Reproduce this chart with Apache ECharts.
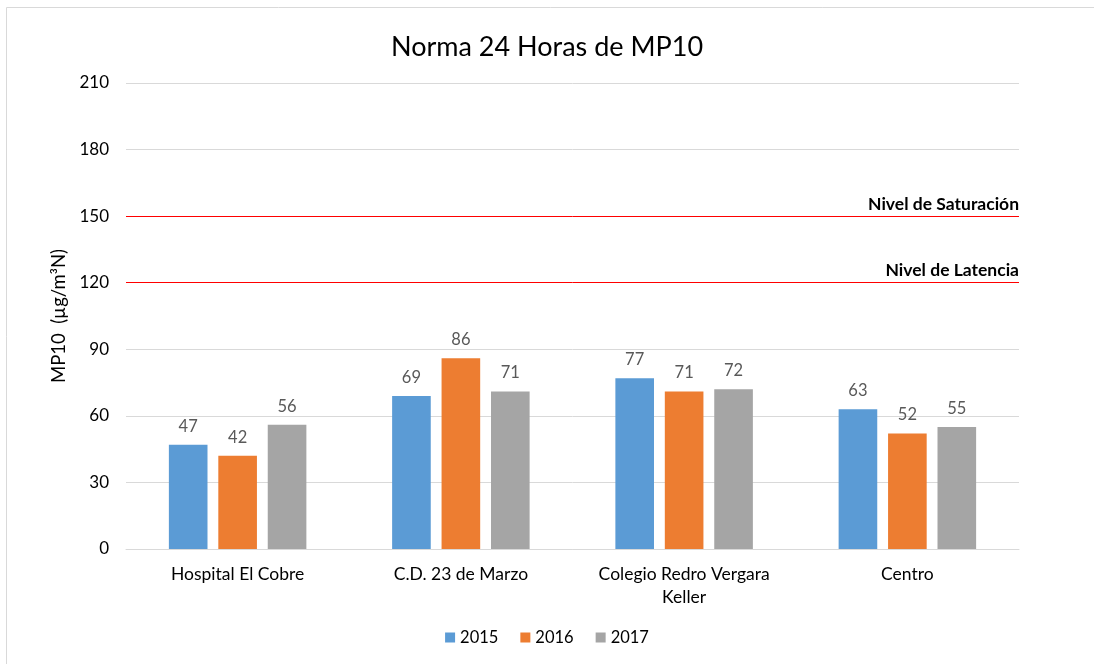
<!DOCTYPE html>
<html><head><meta charset="utf-8">
<script src="https://cdn.jsdelivr.net/npm/echarts@6/dist/echarts.min.js"></script>
<style>html,body{margin:0;padding:0;background:#fff}#c{width:1094px;height:664px}</style>
</head><body><div id="c"></div>
<script>
var categories = ['Hospital El Cobre', 'C.D. 23 de Marzo', 'Colegio Redro Vergara\nKeller', 'Centro'];
var s2015 = [47, 69, 77, 63];
var s2016 = [42, 86, 71, 52];
var s2017 = [56, 71, 72, 55];
var yTicks = [0, 30, 60, 90, 120, 150, 180, 210];
var limits = [{name: 'Nivel de Saturación', value: 150}, {name: 'Nivel de Latencia', value: 120}];

var FONT = 'Lato';
var chart = echarts.init(document.getElementById('c'));
var lbl = {show: true, position: 'top', color: '#595959', fontSize: 16.5, fontFamily: FONT, distance: 10};
function bar(name, data, color, withLines) {
  var s = {name: name, type: 'bar', data: data, barWidth: '17.3%', barGap: '28%',
    itemStyle: {color: color}, label: lbl};
  if (withLines) {
    s.markLine = {symbol: 'none', silent: true,
      lineStyle: {color: '#FF0000', type: 'solid', width: 1},
      label: {position: 'insideEndTop', formatter: '{b}', color: '#000', fontWeight: 'bold', fontSize: 17.5, fontFamily: FONT, distance: [0, 3]},
      data: limits.map(function (l) { return {name: l.name, yAxis: l.value}; })};
  }
  return s;
}
chart.setOption({
  animation: false,
  textStyle: {fontFamily: FONT},
  graphic: [{type: 'rect', shape: {x: 6.5, y: 7.5, width: 1200, height: 800}, style: {fill: 'none', stroke: '#D9D9D9', lineWidth: 1}}],
  title: {text: 'Norma 24 Horas de MP10', left: 'center', top: 29,
    textStyle: {fontFamily: FONT, fontSize: 27, fontWeight: 'normal', color: '#000'}},
  legend: {bottom: 13, left: 'center', itemWidth: 10, itemHeight: 10, itemGap: 22, icon: 'rect',
    textStyle: {fontFamily: FONT, fontSize: 16.5, color: '#000'}},
  grid: {left: 126, right: 75, top: 83, bottom: 115},
  xAxis: {type: 'category', data: categories,
    axisLine: {lineStyle: {color: '#D9D9D9'}}, axisTick: {show: false},
    axisLabel: {color: '#000', fontSize: 17.5, fontFamily: FONT, margin: 14, lineHeight: 23}},
  yAxis: {type: 'value', min: 0, max: 210, interval: 30,
    name: 'MP10  (µg/m³N)', nameLocation: 'middle', nameGap: 52, nameRotate: 90,
    nameTextStyle: {color: '#000', fontSize: 18.5, fontFamily: FONT},
    axisLine: {show: false}, axisTick: {show: false},
    splitLine: {lineStyle: {color: '#D9D9D9'}},
    axisLabel: {color: '#000', fontSize: 17, fontFamily: FONT, margin: 17}},
  series: [bar('2015', s2015, '#5B9BD5', true), bar('2016', s2016, '#ED7D31'), bar('2017', s2017, '#A5A5A5')]
});
</script></body></html>
